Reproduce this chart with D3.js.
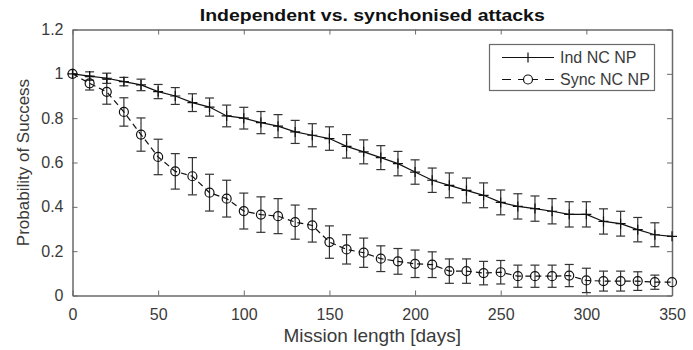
<!DOCTYPE html>
<html>
<head>
<meta charset="utf-8">
<script src="https://cdn.jsdelivr.net/npm/d3@7"></script>
<style>
  body { margin: 0; background: #fff; }
  svg text { font-family: "Liberation Sans", Arial, sans-serif; }
</style>
</head>
<body>
<div class="graph"></div>
<script>
var days = [0,10,20,30,40,50,60,70,80,90,100,110,120,130,140,150,160,170,180,190,200,210,220,230,240,250,260,270,280,290,300,310,320,330,340,350]

var ind_mean = [1.0,0.99,0.98,0.965,0.95,0.92,0.90,0.87,0.85,0.81,0.80,0.78,0.764,0.738,0.723,0.708,0.673,0.648,0.622,0.595,0.557,0.52,0.497,0.474,0.452,0.42,0.402,0.392,0.38,0.366,0.366,0.334,0.324,0.297,0.274,0.267]
var ind_err = [0,0.019,0.023,0.019,0.026,0.032,0.038,0.04,0.041,0.049,0.049,0.05,0.052,0.052,0.052,0.053,0.053,0.054,0.054,0.055,0.055,0.055,0.056,0.056,0.056,0.056,0.057,0.057,0.057,0.057,0.057,0.057,0.056,0.055,0.054,0]

var sync_mean = [1.0,0.957,0.919,0.828,0.726,0.625,0.56,0.538,0.464,0.437,0.381,0.365,0.358,0.331,0.316,0.241,0.208,0.193,0.166,0.154,0.143,0.139,0.11,0.11,0.101,0.105,0.087,0.087,0.087,0.09,0.068,0.065,0.065,0.065,0.06,0.06]
var sync_err = [0,0.03,0.056,0.064,0.075,0.08,0.08,0.084,0.083,0.083,0.081,0.08,0.079,0.077,0.075,0.073,0.066,0.066,0.058,0.058,0.062,0.058,0.055,0.055,0.053,0.053,0.05,0.05,0.05,0.05,0.055,0.045,0.045,0.042,0.032,0]

var x_ticks = [0,50,100,150,200,250,300,350]
var y_ticks = [0,0.2,0.4,0.6,0.8,1,1.2]

var title = "Independent vs. synchonised attacks"
var x_label = "Mission length [days]"
var y_label = "Probability of Success"
var series_names = ["Ind NC NP", "Sync NC NP"]

var w = 693
var h = 350
var plotLeft = 72.5, plotRight = 672, plotTop = 29.5, plotBottom = 295.5
var axisColor = "#6a6a6a"
var textColor = "#3a3a3a"

var svg = d3.select(".graph").append("svg")
  .attr("width", w)
  .attr("height", h)

var x = d3.scaleLinear().domain([0, 350]).range([plotLeft, plotRight])
var y = d3.scaleLinear().domain([0, 1.2]).range([plotBottom, plotTop])

// axes (inward ticks, MATLAB style box)
var xAxis = svg.append("g").attr("transform", "translate(0," + plotBottom + ")")
  .call(d3.axisBottom(x).tickValues(x_ticks).tickSizeInner(-5).tickSizeOuter(0).tickPadding(13))
var yAxis = svg.append("g").attr("transform", "translate(" + plotLeft + ",0)")
  .call(d3.axisLeft(y).tickValues(y_ticks).tickSizeInner(-5).tickSizeOuter(0).tickPadding(9)
    .tickFormat(function(d){ return d3.format("~g")(d) }))
var xTop = svg.append("g").attr("transform", "translate(0," + plotTop + ")")
  .call(d3.axisTop(x).tickValues(x_ticks).tickSizeInner(-5).tickSizeOuter(0).tickFormat(""))
var yRight = svg.append("g").attr("transform", "translate(" + plotRight + ",0)")
  .call(d3.axisRight(y).tickValues(y_ticks).tickSizeInner(-5).tickSizeOuter(0).tickFormat(""))

;[xAxis, yAxis, xTop, yRight].forEach(function(g){
  g.select(".domain").attr("stroke", axisColor).attr("stroke-width", 1.5)
  g.selectAll(".tick line").attr("stroke", axisColor).attr("stroke-width", 1)
  g.selectAll(".tick text").attr("fill", textColor).style("font-size", "16px")
})

// error bars
var drawErr = function(means, errs){
  var g = svg.append("g")
  days.forEach(function(d, i){
    if (errs[i] <= 0) return
    var cx = x(d), y0 = y(means[i] - errs[i]), y1 = y(means[i] + errs[i])
    g.append("line").attr("x1", cx).attr("x2", cx).attr("y1", y0).attr("y2", y1)
    g.append("line").attr("x1", cx - 4.5).attr("x2", cx + 4.5).attr("y1", y0).attr("y2", y0)
    g.append("line").attr("x1", cx - 4.5).attr("x2", cx + 4.5).attr("y1", y1).attr("y2", y1)
  })
  g.selectAll("line").attr("stroke", "#333").attr("stroke-width", 1.2)
}
drawErr(ind_mean, ind_err)
drawErr(sync_mean, sync_err)

var line = d3.line()
  .x(function(d){ return x(d[0]) })
  .y(function(d){ return y(d[1]) })

svg.append("path")
  .datum(days.map(function(d, i){ return [d, ind_mean[i]] }))
  .attr("d", line)
  .attr("fill", "none")
  .attr("stroke", "#111")
  .attr("stroke-width", 1.2)

svg.append("path")
  .datum(days.map(function(d, i){ return [d, sync_mean[i]] }))
  .attr("d", line)
  .attr("fill", "none")
  .attr("stroke", "#111")
  .attr("stroke-width", 1.2)
  .attr("stroke-dasharray", "6,4")

// markers
svg.selectAll(".plus")
  .data(days)
  .enter()
  .append("path")
  .attr("class", "plus")
  .attr("d", function(d, i){
    var cx = x(d), cy = y(ind_mean[i])
    return "M" + (cx - 5) + "," + cy + "H" + (cx + 5) + "M" + cx + "," + (cy - 5) + "V" + (cy + 5)
  })
  .attr("stroke", "#111")
  .attr("stroke-width", 1.2)

svg.selectAll(".circ")
  .data(days)
  .enter()
  .append("circle")
  .attr("class", "circ")
  .attr("cx", function(d){ return x(d) })
  .attr("cy", function(d, i){ return y(sync_mean[i]) })
  .attr("r", 4.5)
  .attr("fill", "none")
  .attr("stroke", "#111")
  .attr("stroke-width", 1.2)

// legend
var lg = svg.append("g")
lg.append("rect")
  .attr("x", 489.5).attr("y", 44.5).attr("width", 165).attr("height", 46)
  .attr("fill", "#fff").attr("stroke", axisColor).attr("stroke-width", 1.2)
lg.append("line").attr("x1", 502).attr("x2", 554).attr("y1", 57.5).attr("y2", 57.5)
  .attr("stroke", "#111").attr("stroke-width", 1.2)
lg.append("path").attr("d", "M523,57.5H533M528,52.5V62.5").attr("stroke", "#111").attr("stroke-width", 1.2)
lg.append("line").attr("x1", 502).attr("x2", 554).attr("y1", 79.5).attr("y2", 79.5)
  .attr("stroke", "#111").attr("stroke-width", 1.2).attr("stroke-dasharray", "9,7,20,7,9")
lg.append("circle").attr("cx", 528).attr("cy", 79.5).attr("r", 4.5)
  .attr("fill", "#fff").attr("stroke", "#111").attr("stroke-width", 1.2)
lg.selectAll("text")
  .data(series_names)
  .enter()
  .append("text")
  .text(function(d){ return d })
  .attr("x", 560)
  .attr("y", function(d, i){ return 63 + i * 22 })
  .attr("fill", textColor)
  .style("font-size", "16px")

// titles
svg.append("text")
  .text(title)
  .attr("x", (plotLeft + plotRight) / 2)
  .attr("y", 21)
  .attr("text-anchor", "middle")
  .attr("font-weight", "bold")
  .attr("fill", "#111")
  .attr("textLength", 345)
  .attr("lengthAdjust", "spacingAndGlyphs")
  .style("font-size", "17px")

svg.append("text")
  .text(x_label)
  .attr("x", (plotLeft + plotRight) / 2)
  .attr("y", 342)
  .attr("text-anchor", "middle")
  .attr("fill", textColor)
  .style("font-size", "19px")

svg.append("text")
  .text(y_label)
  .attr("transform", "translate(29," + ((plotTop + plotBottom) / 2) + ") rotate(-90)")
  .attr("text-anchor", "middle")
  .attr("fill", textColor)
  .style("font-size", "17px")
</script>
</body>
</html>
